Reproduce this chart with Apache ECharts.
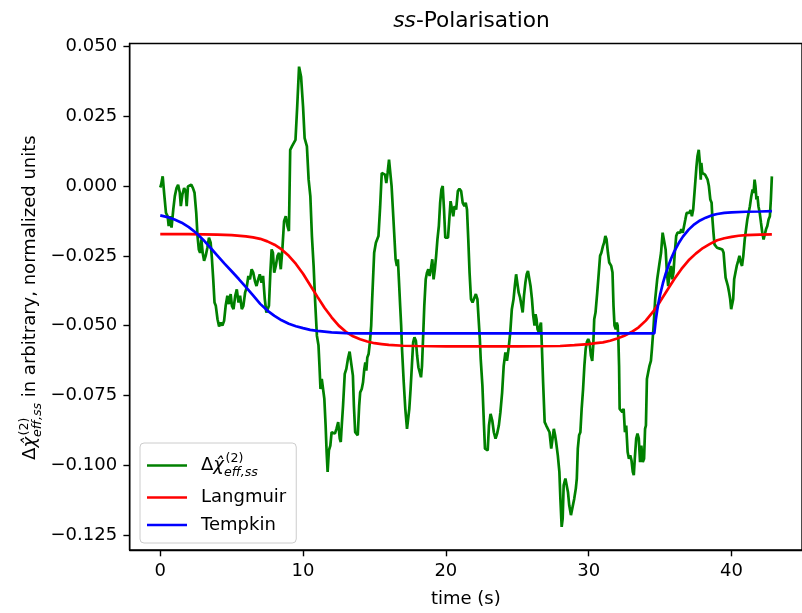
<!DOCTYPE html>
<html><head><meta charset="utf-8">
<script src="https://cdn.jsdelivr.net/npm/echarts@6/dist/echarts.min.js"></script>
<style>html,body{margin:0;padding:0;background:#fff}#c{width:802px;height:613px}</style>
</head><body><div id="c"></div>
<script>
const xTicks = [0, 10, 20, 30, 40];
const yTicks = [-0.125, -0.1, -0.075, -0.05, -0.025, 0, 0.025, 0.05];

// Δχ_eff,ss (time, value)
const green = [
[0.00,-0.0005],[0.06,0.0005],[0.17,0.0035],[0.29,-0.0036],[0.40,-0.0096],[0.52,-0.0108],[0.59,-0.0143],[0.68,-0.0108],[0.79,-0.0149],[0.91,-0.0084],
[1.02,-0.0036],[1.14,-0.0007],[1.25,0.0005],[1.37,-0.0024],[1.44,-0.0072],[1.55,-0.0030],[1.67,-0.0007],[1.78,-0.0018],[1.85,-0.0072],[1.94,-0.0001],
[2.06,-0.0001],[2.17,0.0005],[2.29,-0.0007],[2.40,-0.0024],[2.52,-0.0096],[2.61,-0.0179],[2.70,-0.0227],[2.79,-0.0239],[2.88,-0.0191],[2.97,-0.0239],
[3.07,-0.0268],[3.18,-0.0250],[3.30,-0.0221],[3.41,-0.0185],[3.53,-0.0203],[3.62,-0.0262],[3.71,-0.0334],[3.80,-0.0417],[3.89,-0.0429],[4.01,-0.0477],
[4.12,-0.0503],[4.24,-0.0489],[4.35,-0.0500],[4.47,-0.0483],[4.58,-0.0429],[4.70,-0.0393],[4.81,-0.0423],[4.93,-0.0387],[5.02,-0.0429],[5.13,-0.0441],
[5.25,-0.0393],[5.36,-0.0370],[5.48,-0.0417],[5.59,-0.0393],[5.71,-0.0441],[5.82,-0.0429],[5.94,-0.0382],[6.05,-0.0364],[6.17,-0.0322],[6.28,-0.0334],
[6.40,-0.0298],[6.51,-0.0310],[6.63,-0.0340],[6.74,-0.0358],[6.86,-0.0334],[6.97,-0.0316],[7.09,-0.0346],[7.20,-0.0322],[7.32,-0.0405],[7.43,-0.0453],
[7.52,-0.0459],[7.61,-0.0429],[7.71,-0.0310],[7.80,-0.0227],[7.89,-0.0239],[7.98,-0.0310],[8.09,-0.0286],[8.21,-0.0250],[8.32,-0.0239],[8.44,-0.0298],
[8.55,-0.0227],[8.67,-0.0126],[8.79,-0.0108],[8.91,-0.0143],[9.01,-0.0161],[9.10,0.0130],[9.22,0.0142],[9.36,0.0136],[9.47,0.0166],[9.59,0.0285],
[9.72,0.0428],[9.86,0.0392],[10.00,0.0285],[10.11,0.0172],[10.27,0.0142],[10.39,0.0023],[10.51,-0.0036],[10.62,-0.0179],[10.74,-0.0286],[10.85,-0.0417],
[10.97,-0.0536],[11.08,-0.0570],[11.15,-0.0644],[11.22,-0.0727],[11.31,-0.0691],[11.42,-0.0684],[11.49,-0.0762],[11.58,-0.0858],[11.65,-0.0953],[11.72,-0.1024],
[11.81,-0.0947],[11.91,-0.0930],[12.00,-0.0882],[12.11,-0.0876],[12.23,-0.0887],[12.34,-0.0870],[12.46,-0.0846],[12.57,-0.0905],[12.64,-0.0917],[12.71,-0.0858],
[12.80,-0.0787],[12.92,-0.0673],[13.03,-0.0655],[13.14,-0.0620],[13.26,-0.0593],[13.37,-0.0596],[13.49,-0.0679],[13.56,-0.0787],[13.65,-0.0882],[13.74,-0.0887],
[13.83,-0.0893],[13.93,-0.0787],[14.00,-0.0739],[14.11,-0.0727],[14.20,-0.0703],[14.29,-0.0655],[14.36,-0.0632],[14.43,-0.0661],[14.50,-0.0614],[14.59,-0.0602],
[14.68,-0.0560],[14.77,-0.0501],[14.84,-0.0405],[14.98,-0.0239],[15.10,-0.0203],[15.28,-0.0179],[15.40,-0.0072],[15.51,0.0047],[15.60,0.0047],[15.74,0.0041],
[15.83,0.0011],[15.92,0.0047],[16.02,0.0095],[16.11,0.0047],[16.20,0.0000],[16.29,-0.0083],[16.38,-0.0167],[16.48,-0.0262],[16.57,-0.0286],[16.64,-0.0262],
[16.71,-0.0334],[16.80,-0.0429],[16.87,-0.0500],[16.93,-0.0584],[17.05,-0.0703],[17.16,-0.0798],[17.28,-0.0870],[17.35,-0.0876],[17.44,-0.0798],[17.53,-0.0727],
[17.62,-0.0644],[17.71,-0.0560],[17.80,-0.0542],[17.90,-0.0554],[17.99,-0.0608],[18.08,-0.0650],[18.17,-0.0667],[18.26,-0.0685],[18.33,-0.0644],[18.42,-0.0524],
[18.49,-0.0429],[18.59,-0.0334],[18.68,-0.0310],[18.77,-0.0298],[18.86,-0.0322],[18.95,-0.0298],[19.05,-0.0262],[19.14,-0.0334],[19.23,-0.0298],[19.32,-0.0250],
[19.41,-0.0191],[19.51,-0.0143],[19.60,-0.0060],[19.69,-0.0012],[19.78,0.0000],[19.87,-0.0083],[19.96,-0.0185],[20.06,-0.0191],[20.15,-0.0185],[20.24,-0.0120],
[20.33,-0.0054],[20.42,-0.0060],[20.52,-0.0108],[20.61,-0.0072],[20.72,-0.0084],[20.84,-0.0018],[20.95,-0.0010],[21.07,-0.0018],[21.18,-0.0060],[21.30,-0.0072],
[21.39,-0.0060],[21.48,-0.0084],[21.57,-0.0191],[21.66,-0.0310],[21.76,-0.0405],[21.87,-0.0417],[21.98,-0.0417],[22.10,-0.0387],[22.21,-0.0405],[22.28,-0.0465],
[22.38,-0.0548],[22.44,-0.0619],[22.56,-0.0715],[22.67,-0.0858],[22.74,-0.0941],[22.83,-0.0947],[22.93,-0.0947],[23.02,-0.0858],[23.13,-0.0816],[23.25,-0.0840],
[23.36,-0.0882],[23.48,-0.0905],[23.59,-0.0887],[23.71,-0.0858],[23.82,-0.0810],[23.94,-0.0740],[24.05,-0.0644],[24.17,-0.0596],[24.28,-0.0626],[24.39,-0.0584],
[24.51,-0.0524],[24.62,-0.0441],[24.74,-0.0405],[24.83,-0.0358],[24.92,-0.0316],[25.01,-0.0316],[25.10,-0.0382],[25.20,-0.0400],[25.29,-0.0393],[25.38,-0.0453],
[25.47,-0.0393],[25.57,-0.0346],[25.66,-0.0316],[25.75,-0.0304],[25.84,-0.0310],[25.93,-0.0358],[26.03,-0.0405],[26.12,-0.0465],[26.21,-0.0500],[26.28,-0.0459],
[26.35,-0.0477],[26.42,-0.0513],[26.51,-0.0524],[26.60,-0.0500],[26.66,-0.0489],[26.73,-0.0584],[26.81,-0.0703],[26.92,-0.0846],[27.03,-0.0858],[27.15,-0.0852],
[27.26,-0.0882],[27.38,-0.0941],[27.49,-0.0941],[27.56,-0.0870],[27.65,-0.0893],[27.72,-0.0917],[27.84,-0.0965],[27.95,-0.1024],[28.02,-0.1120],[28.11,-0.1221],
[28.18,-0.1191],[28.25,-0.1072],[28.37,-0.1048],[28.46,-0.1042],[28.55,-0.1096],[28.64,-0.1144],[28.76,-0.1179],[28.87,-0.1185],[28.99,-0.1120],[29.10,-0.1084],
[29.17,-0.1048],[29.24,-0.0941],[29.33,-0.0893],[29.42,-0.0882],[29.51,-0.0798],[29.61,-0.0727],[29.70,-0.0644],[29.79,-0.0584],[29.88,-0.0558],[29.97,-0.0548],
[30.06,-0.0560],[30.16,-0.0608],[30.25,-0.0626],[30.32,-0.0572],[30.39,-0.0477],[30.48,-0.0453],[30.60,-0.0382],[30.71,-0.0310],[30.80,-0.0250],[30.89,-0.0239],
[31.00,-0.0215],[31.08,-0.0203],[31.17,-0.0179],[31.25,-0.0190],[31.35,-0.0239],[31.44,-0.0274],[31.58,-0.0286],[31.67,-0.0310],[31.74,-0.0429],[31.81,-0.0500],
[31.90,-0.0513],[31.97,-0.0489],[32.03,-0.0500],[32.08,-0.0548],[32.13,-0.0644],[32.17,-0.0798],[32.27,-0.0798],[32.36,-0.0810],[32.45,-0.0798],[32.54,-0.0882],
[32.63,-0.0858],[32.73,-0.0953],[32.82,-0.0977],[32.91,-0.0965],[33.00,-0.0983],[33.09,-0.1024],[33.16,-0.1036],[33.23,-0.0977],[33.33,-0.0905],[33.42,-0.0887],
[33.51,-0.0905],[33.60,-0.0989],[33.69,-0.0930],[33.79,-0.0989],[33.88,-0.0977],[33.95,-0.0870],[34.01,-0.0858],[34.08,-0.0691],[34.17,-0.0667],[34.26,-0.0644],
[34.36,-0.0626],[34.43,-0.0584],[34.55,-0.0500],[34.66,-0.0405],[34.80,-0.0334],[34.95,-0.0280],[35.07,-0.0239],[35.18,-0.0167],[35.30,-0.0173],[35.39,-0.0227],
[35.48,-0.0310],[35.57,-0.0358],[35.67,-0.0310],[35.76,-0.0286],[35.85,-0.0334],[35.94,-0.0310],[36.03,-0.0239],[36.13,-0.0179],[36.22,-0.0167],[36.31,-0.0161],
[36.40,-0.0167],[36.49,-0.0155],[36.59,-0.0167],[36.68,-0.0161],[36.77,-0.0120],[36.86,-0.0096],[36.95,-0.0090],[37.04,-0.0096],[37.14,-0.0086],[37.23,-0.0108],
[37.32,-0.0084],[37.41,-0.0024],[37.48,0.0023],[37.55,0.0071],[37.62,0.0107],[37.71,0.0130],[37.78,0.0089],[37.85,0.0023],[37.89,0.0083],[37.96,0.0047],
[38.05,0.0047],[38.15,0.0041],[38.24,0.0035],[38.33,0.0023],[38.42,0.0000],[38.52,-0.0048],[38.61,-0.0060],[38.67,-0.0120],[38.74,-0.0167],[38.81,-0.0209],
[38.90,-0.0215],[38.99,-0.0221],[39.09,-0.0227],[39.18,-0.0224],[39.27,-0.0227],[39.36,-0.0227],[39.45,-0.0239],[39.52,-0.0286],[39.59,-0.0328],[39.68,-0.0322],
[39.75,-0.0358],[39.84,-0.0382],[39.91,-0.0405],[39.98,-0.0441],[40.05,-0.0443],[40.12,-0.0405],[40.19,-0.0334],[40.28,-0.0310],[40.37,-0.0286],[40.47,-0.0268],
[40.56,-0.0250],[40.65,-0.0274],[40.74,-0.0286],[40.83,-0.0250],[40.93,-0.0191],[41.02,-0.0155],[41.11,-0.0120],[41.20,-0.0096],[41.29,-0.0072],[41.39,-0.0036],
[41.48,-0.0012],[41.55,-0.0024],[41.62,0.0023],[41.68,0.0000],[41.75,-0.0048],[41.82,-0.0036],[41.89,-0.0072],[41.98,-0.0096],[42.07,-0.0132],[42.16,-0.0167],
[42.25,-0.0191],[42.32,-0.0185],[42.42,-0.0155],[42.51,-0.0143],[42.60,-0.0120],[42.69,-0.0108],[42.76,-0.0048],[42.83,0.0035]
];

const langmuir = [
[0,-0.0172],[2,-0.0172],[4,-0.0174],[5,-0.0176],[6,-0.0180],[6.5,-0.0184],[7,-0.0189],[7.5,-0.0198],[8,-0.0210],[8.5,-0.0227],
[9,-0.0250],[9.5,-0.0279],[10,-0.0314],[10.5,-0.0355],[11,-0.0396],[11.5,-0.0436],[12,-0.0470],[12.5,-0.0500],[13,-0.0522],[13.5,-0.0538],
[14,-0.0549],[14.5,-0.0557],[15,-0.0563],[15.5,-0.0566],[16,-0.0569],[17,-0.0572],[18,-0.0573],[20,-0.0574],[25,-0.0574],[28,-0.0573],
[29,-0.0570],[30,-0.0566],[30.5,-0.0563],[31,-0.0560],[31.5,-0.0554],[32,-0.0546],[32.5,-0.0536],[33,-0.0523],[33.5,-0.0506],[34,-0.0482],
[34.5,-0.0451],[35,-0.0414],[35.5,-0.0373],[36,-0.0333],[36.5,-0.0297],[37,-0.0266],[37.5,-0.0242],[38,-0.0222],[38.5,-0.0207],[39,-0.0194],
[39.5,-0.0187],[40,-0.0182],[40.5,-0.0178],[41,-0.0176],[42,-0.0174],[42.83,-0.0173]
];

const tempkin = [
[0,-0.0105],[0.5,-0.0111],[1,-0.0120],[1.5,-0.0131],[2,-0.0147],[2.5,-0.0167],[3,-0.0192],[3.5,-0.0220],[4,-0.0249],[4.5,-0.0278],
[5,-0.0305],[5.5,-0.0333],[6,-0.0362],[6.5,-0.0392],[7,-0.0422],[7.5,-0.0446],[8,-0.0465],[8.5,-0.0481],[9,-0.0493],[9.5,-0.0502],
[10,-0.0509],[10.5,-0.0515],[11,-0.0519],[12,-0.0524],[13,-0.0527],[14,-0.0528],[20,-0.0528],[30,-0.0528],[34.6,-0.0528],[34.7,-0.0480],
[34.8,-0.0445],[34.9,-0.0415],[35,-0.0390],[35.2,-0.0348],[35.4,-0.0313],[35.6,-0.0283],[35.8,-0.0257],[36,-0.0234],[36.3,-0.0205],[36.6,-0.0181],
[37,-0.0156],[37.4,-0.0137],[37.8,-0.0123],[38.2,-0.0113],[38.6,-0.0105],[39,-0.0100],[39.5,-0.0096],[40,-0.0094],[41,-0.0092],[42,-0.0091],
[42.83,-0.0090]
];

const seriesNames = ['chi', 'Langmuir', 'Tempkin'];
const mathParts = ['\u0394', '\u03C7\u0302', '(2)', 'eff,ss'];
const yLabelRest = ' in arbitrary, normalized units';

const FAM = 'DejaVu Sans';
const FONT = '"DejaVu Sans", sans-serif';
const FS = 18, SFS = 12.6;

// text measurement for laying out the stacked super/subscripts
const mctx = document.createElement('canvas').getContext('2d');
function tw(text, size, italic) {
  mctx.font = (italic ? 'italic ' : '') + size + 'px "' + FAM + '"';
  return mctx.measureText(text).width;
}
const wD = tw(mathParts[0], FS, false);
const wC = tw('\u03C7', FS, true);
const wSup = tw(mathParts[2], SFS, false);
const wSub = tw(mathParts[3], SFS, true);
const wScript = Math.max(wSup + 1.5, wSub);
const mainMid = -0.3 * FS, smallMid = -0.3 * SFS;
const baseStyle = {fill: '#000', fontFamily: FONT, verticalAlign: 'middle', align: 'left'};
function st(o) { return Object.assign({}, baseStyle, o); }

// math pieces relative to main baseline at (x, 0)
function scriptKids(x, z) {
  return [
    {type: 'text', z: z, x: x + 1.5, y: -8 + smallMid, style: st({text: mathParts[2], fontSize: SFS})},
    {type: 'text', z: z, x: x, y: 5.5 + smallMid, style: st({text: mathParts[3], fontSize: SFS, fontStyle: 'italic'})}
  ];
}
function yLabelGraphic() {
  const wT = tw(yLabelRest, FS, false);
  const W = wD + wC + wScript + wT;
  let x = -W / 2;
  const kids = [];
  kids.push({type: 'text', x: x, y: mainMid, style: st({text: mathParts[0], fontSize: FS})});
  x += wD;
  kids.push({type: 'text', x: x, y: mainMid, style: st({text: mathParts[1], fontSize: FS, fontStyle: 'italic'})});
  x += wC;
  kids.push.apply(kids, scriptKids(x, 0));
  x += wScript;
  kids.push({type: 'text', x: x, y: mainMid, style: st({text: yLabelRest, fontSize: FS})});
  return {type: 'group', x: 36, y: 297.6, rotation: Math.PI / 2, silent: true, children: kids};
}
// legend geometry
const LEG = {left: 140, top: 443, padL: 7, padT: 9, itemW: 40, textPad: 9, row1H: 27};
function legendScriptGraphic() {
  const textX = LEG.left + LEG.padL + LEG.itemW + 5 + LEG.textPad;
  const rowMid = LEG.top + LEG.padT + LEG.row1H / 2;
  const baseline = rowMid + 0.3 * FS;
  return {type: 'group', x: textX + wD + wC, y: baseline, silent: true, children: scriptKids(0, 1000)};
}

const legendRich = {
  g: {fontFamily: FONT, fontSize: FS, color: '#000', lineHeight: LEG.row1H},
  c: {fontFamily: FONT, fontSize: FS, fontStyle: 'italic', color: '#000', lineHeight: LEG.row1H},
  w: {width: wScript, lineHeight: LEG.row1H}
};

const fmt = v => (v < 0 ? '\u2212' : '') + Math.abs(v).toFixed(3);
const axisLineStyle = {color: '#000', width: 1.4};

const chart = echarts.init(document.getElementById('c'), null, {renderer: 'canvas'});
chart.setOption({
  animation: false,
  backgroundColor: '#fff',
  grid: {left: 129.7, top: 43.5, width: 683.6, height: 508.2, show: true, borderColor: '#000', borderWidth: 1.4, backgroundColor: 'transparent'},
  graphic: {
    elements: [{
      type: 'text', x: 471.5, y: 21, silent: true,
      style: {
        text: '{i|ss}{n|-Polarisation}', align: 'center', verticalAlign: 'middle',
        rich: {
          i: {fontFamily: FONT, fontStyle: 'italic', fontSize: 21.7, fill: '#000', color: '#000'},
          n: {fontFamily: FONT, fontSize: 21.7, fill: '#000', color: '#000'}
        }
      }
    }, yLabelGraphic(), legendScriptGraphic()]
  },
  xAxis: {
    type: 'value', min: -2.14, max: 44.94,
    axisLine: {show: true, onZero: false, lineStyle: axisLineStyle},
    axisTick: {show: true, customValues: xTicks, length: 6.3, lineStyle: axisLineStyle},
    axisLabel: {customValues: xTicks, margin: 12.6, fontFamily: FONT, fontSize: FS, color: '#000'},
    splitLine: {show: false},
    name: 'time (s)', nameLocation: 'middle', nameGap: 40,
    nameTextStyle: {fontFamily: FONT, fontSize: FS, color: '#000'}
  },
  yAxis: {
    type: 'value', min: -0.1304, max: 0.0511,
    axisLine: {show: true, onZero: false, lineStyle: axisLineStyle},
    axisTick: {show: true, customValues: yTicks, length: 6.3, lineStyle: axisLineStyle},
    axisLabel: {customValues: yTicks, margin: 12.6, fontFamily: FONT, fontSize: FS, color: '#000', formatter: fmt},
    splitLine: {show: false}
  },
  legend: {
    data: seriesNames, orient: 'vertical', left: LEG.left, top: LEG.top, z: 4,
    padding: [LEG.padT, 10, 9, LEG.padL], itemWidth: LEG.itemW, itemHeight: 2.7, itemGap: 9.5, icon: 'rect',
    backgroundColor: 'rgba(255,255,255,0.8)', borderColor: '#cccccc', borderWidth: 1, borderRadius: 4,
    formatter: n => n === 'chi' ? '{g|\u0394}{c|\u03C7\u0302}{w|}' : n,
    textStyle: {fontFamily: FONT, fontSize: FS, color: '#000', lineHeight: 18, padding: [0, 0, 0, LEG.textPad], rich: legendRich}
  },
  series: [
    {name: 'chi', type: 'line', data: green, showSymbol: false, symbol: 'none', lineStyle: {color: '#008000', width: 2.7}, itemStyle: {color: '#008000'}, emphasis: {disabled: true}, z: 2},
    {name: 'Langmuir', type: 'line', data: langmuir, showSymbol: false, symbol: 'none', lineStyle: {color: '#ff0000', width: 2.7}, itemStyle: {color: '#ff0000'}, emphasis: {disabled: true}, z: 3},
    {name: 'Tempkin', type: 'line', data: tempkin, showSymbol: false, symbol: 'none', lineStyle: {color: '#0000ff', width: 2.7}, itemStyle: {color: '#0000ff'}, emphasis: {disabled: true}, z: 3}
  ]
});
</script>
</body></html>
